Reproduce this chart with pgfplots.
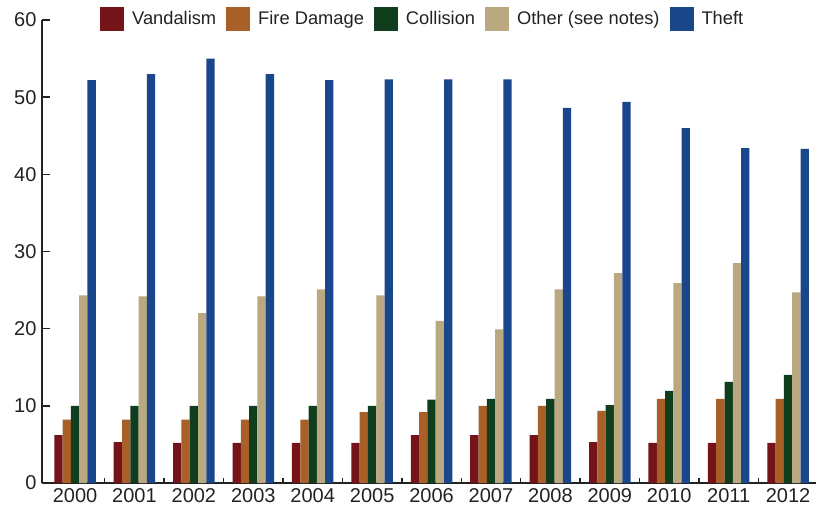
\documentclass[border=0pt]{standalone}
\usepackage{fontspec}
\setmainfont{Liberation Sans}
\usepackage{pgfplots}
\pgfplotsset{compat=1.18}
\usepackage{pgfplotstable}

\definecolor{cVan}{RGB}{116,20,25}
\definecolor{cFire}{RGB}{168,95,40}
\definecolor{cColl}{RGB}{15,61,30}
\definecolor{cOther}{RGB}{185,168,128}
\definecolor{cTheft}{RGB}{26,70,140}
\definecolor{cText}{RGB}{34,34,34}

\pgfplotstableread{
x van fire coll other theft
0 6.2 8.2 10.0 24.3 52.2
1 5.3 8.2 10.0 24.2 53.0
2 5.2 8.2 10.0 22.0 55.0
3 5.2 8.2 10.0 24.2 53.0
4 5.2 8.2 10.0 25.1 52.2
5 5.2 9.2 10.0 24.3 52.3
6 6.2 9.2 10.8 21.0 52.3
7 6.2 10.0 10.9 19.9 52.3
8 6.2 10.0 10.9 25.1 48.6
9 5.3 9.35 10.1 27.2 49.4
10 5.2 10.9 11.95 25.9 46.0
11 5.2 10.9 13.1 28.5 43.4
12 5.2 10.9 14.0 24.7 43.3
}\data

\begin{document}
\begin{tikzpicture}
\begin{axis}[
  at={(0,0)}, anchor=south west,
  scale only axis, width=774bp, height=463bp,
  xmin=-0.556, xmax=12.47, ymin=0, ymax=60,
  axis x line*=bottom, axis y line*=left,
  x axis line style={line width=2.4bp, color=cText},
  y axis line style={line width=1.8bp, color=cText},
  ybar=0pt, bar width=8.3bp,
  xtick=data,
  xticklabels={2000,2001,2002,2003,2004,2005,2006,2007,2008,2009,2010,2011,2012},
  major x tick style={draw=none},
  minor xtick={0.5,1.5,...,11.5},
  minor x tick style={draw=cText, line width=1.5bp},
  minor tick length=5bp,
  ytick={0,10,...,60},
  major tick length=8bp,
  y tick style={draw=cText, line width=1.5bp},
  tick align=inside,
  /pgf/number format/assume math mode=true,
  tick label style={font=\fontsize{20bp}{24bp}\selectfont, color=cText},
  yticklabel style={xshift=-2bp},
  xticklabel style={yshift=-2bp},
  legend columns=5,
  legend image code/.code={\fill[#1,draw=none] (0bp,-12bp) rectangle (24bp,12bp);},
  legend style={font=\fontsize{18.3bp}{22bp}\selectfont, text=cText, draw=none, fill=none,
    inner sep=0pt, at={(axis description cs:0.0749,1.0030)}, anchor=west,
    /tikz/every odd column/.append style={column sep=6bp},
    /tikz/every even column/.append style={column sep=8bp}},
  legend cell align=left,
]
\addplot[fill=cVan, draw=none] table[x=x, y=van] {\data};
\addplot[fill=cFire, draw=none] table[x=x, y=fire] {\data};
\addplot[fill=cColl, draw=none] table[x=x, y=coll] {\data};
\addplot[fill=cOther, draw=none] table[x=x, y=other] {\data};
\addplot[fill=cTheft, draw=none] table[x=x, y=theft] {\data};
\legend{Vandalism, Fire Damage, Collision, Other (see notes), Theft}
\end{axis}
\pgfresetboundingbox
\path[use as bounding box] (-42bp,-30bp) rectangle (774bp,483bp);
\end{tikzpicture}
\end{document}
